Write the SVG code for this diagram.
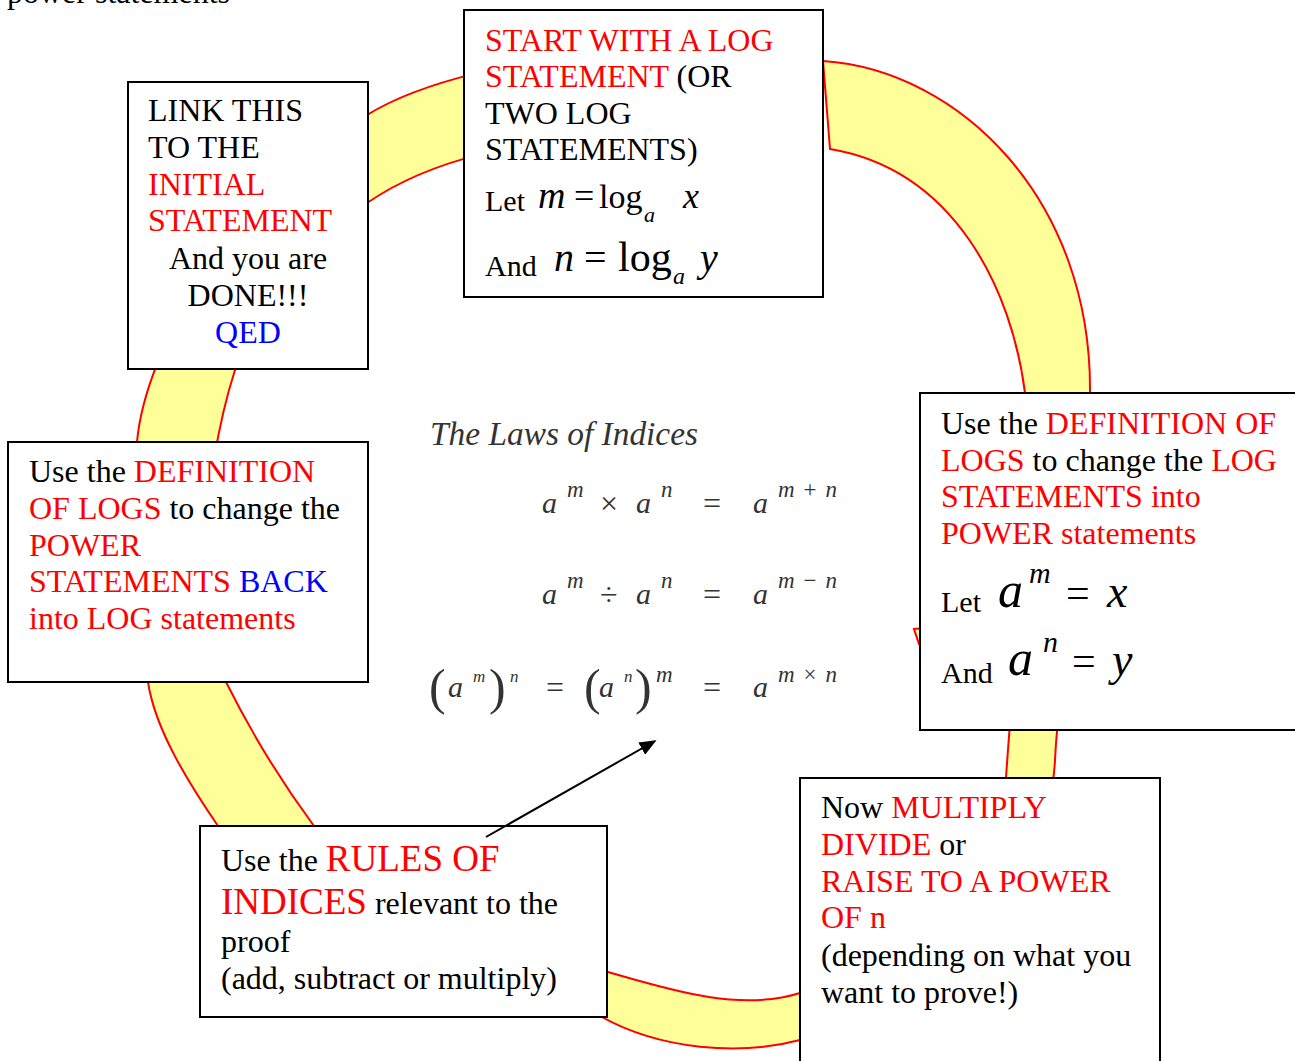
<svg xmlns="http://www.w3.org/2000/svg" width="1295" height="1061" viewBox="0 0 1295 1061">
<defs>
<style>
text{font-family:"Liberation Serif","Times New Roman",serif;font-size:32px;fill:#000}
.r{fill:#FF0000}
.b{fill:#0000FF}
.i{font-style:italic}
.box{fill:#fff;stroke:#000;stroke-width:2}
.band{fill:#FFFF99;stroke:#FF0000;stroke-width:2;stroke-linejoin:miter}
.law{font-style:italic;fill:#333;font-size:30px}
.sup{font-style:italic;fill:#333;font-size:23px}
.op{fill:#333;font-size:32px}
.par{fill:#333;font-size:50px}
</style>
<marker id="ah" viewBox="0 0 10 10" refX="9" refY="5" markerWidth="17" markerHeight="14" markerUnits="userSpaceOnUse" orient="auto" preserveAspectRatio="none">
<path d="M0,0 L10,5 L0,10 Z" fill="#000"/>
</marker>
</defs>
<rect width="1295" height="1061" fill="#fff"/>
<text x="7" y="3">power statements</text>

<g id="ring">
<path class="band" d="M 823,61 C 960,70 1092,200 1090,393 C 1098,540 1060,650 1055,760 C 1050,900 860,1035 800,1040 C 740,1056 660,1050 600,1016 C 490,955 290,920 218,826 C 190,785 155,730 148,682 C 142,640 130,520 137,442 C 145,350 230,200 367,115 C 420,82 520,58 620,52 L 620,140 C 520,138 430,160 367,203 C 310,235 255,300 235,370 C 219,420 206,490 205,560 C 204,620 212,655 226,682 C 250,730 280,780 314,826 C 380,910 495,945 608,972 C 670,990 740,1012 800,993 C 880,975 1000,880 1006,778 C 1012,680 1032,520 1025,393 C 1012,290 955,170 830,149 Z"/>
<polygon class="band" points="914,629 924,628 924,644 919,644"/>
</g>

<g id="node-top">
<rect class="box" x="464" y="10" width="359" height="287"/>
<text x="485" y="51"><tspan class="r">START WITH A LOG</tspan></text>
<text x="485" y="87"><tspan class="r">STATEMENT</tspan> (OR</text>
<text x="485" y="124">TWO LOG</text>
<text x="485" y="160">STATEMENTS)</text>
<text x="485" y="211" style="font-size:30px">Let</text>
<text x="538" y="208" class="i" style="font-size:38px">m</text>
<text x="574" y="208" style="font-size:36px">=</text>
<text x="599" y="208" style="font-size:34px">log</text>
<text x="644" y="222" class="i" style="font-size:22px">a</text>
<text x="683" y="208" class="i" style="font-size:36px">x</text>
<text x="485" y="276" style="font-size:30px">And</text>
<text x="554" y="271" class="i" style="font-size:40px">n</text>
<text x="584" y="271" style="font-size:40px">=</text>
<text x="618" y="271" style="font-size:42px">log</text>
<text x="673" y="284" class="i" style="font-size:24px">a</text>
<text x="700" y="271" class="i" style="font-size:40px">y</text>
</g>

<g id="node-link">
<rect class="box" x="128" y="82" width="240" height="287"/>
<text x="148" y="121">LINK THIS</text>
<text x="148" y="158">TO THE</text>
<text x="148" y="195" class="r">INITIAL</text>
<text x="148" y="231" class="r">STATEMENT</text>
<text x="248" y="269" text-anchor="middle">And you are</text>
<text x="248" y="306" text-anchor="middle">DONE!!!</text>
<text x="248" y="343" text-anchor="middle" class="b">QED</text>
</g>

<g id="node-left">
<rect class="box" x="8" y="442" width="360" height="240"/>
<text x="29" y="482">Use the <tspan class="r">DEFINITION</tspan></text>
<text x="29" y="519"><tspan class="r">OF LOGS</tspan> to change the</text>
<text x="29" y="556" class="r">POWER</text>
<text x="29" y="592"><tspan class="r">STATEMENTS</tspan> <tspan class="b">BACK</tspan></text>
<text x="29" y="629" class="r">into LOG statements</text>
</g>

<g id="node-right">
<rect class="box" x="920" y="393" width="380" height="337"/>
<text x="941" y="434">Use the <tspan class="r">DEFINITION OF</tspan></text>
<text x="941" y="471"><tspan class="r">LOGS</tspan> to change the <tspan class="r">LOG</tspan></text>
<text x="941" y="507" class="r">STATEMENTS into</text>
<text x="941" y="544" class="r">POWER statements</text>
<text x="941" y="612" style="font-size:30px">Let</text>
<text x="998" y="607" class="i" style="font-size:50px">a</text>
<text x="1029" y="583" class="i" style="font-size:30px">m</text>
<text x="1066" y="607" style="font-size:42px">=</text>
<text x="1107" y="607" class="i" style="font-size:46px">x</text>
<text x="941" y="683" style="font-size:30px">And</text>
<text x="1008" y="675" class="i" style="font-size:50px">a</text>
<text x="1043" y="652" class="i" style="font-size:30px">n</text>
<text x="1072" y="675" style="font-size:42px">=</text>
<text x="1112" y="675" class="i" style="font-size:46px">y</text>
</g>

<g id="node-multiply">
<rect class="box" x="800" y="778" width="360" height="290"/>
<text x="821" y="818">Now <tspan class="r">MULTIPLY</tspan></text>
<text x="821" y="855"><tspan class="r">DIVIDE</tspan> or</text>
<text x="821" y="892" class="r">RAISE TO A POWER</text>
<text x="821" y="928" class="r">OF n</text>
<text x="821" y="966">(depending on what you</text>
<text x="821" y="1003">want to prove!)</text>
</g>

<g id="node-rules">
<rect class="box" x="200" y="826" width="407" height="191"/>
<text x="221" y="871">Use the <tspan class="r" style="font-size:37px">RULES OF</tspan></text>
<text x="221" y="914"><tspan class="r" style="font-size:37px">INDICES</tspan> relevant to the</text>
<text x="221" y="952">proof</text>
<text x="221" y="989">(add, subtract or multiply)</text>
</g>

<g id="laws">
<text x="430" y="445" class="law" style="font-size:33px" textLength="268" lengthAdjust="spacingAndGlyphs">The Laws of Indices</text>
<text x="542" y="513" class="law">a</text>
<text x="567" y="497" class="sup">m</text>
<text x="600" y="514" class="op">×</text>
<text x="636" y="513" class="law">a</text>
<text x="661" y="497" class="sup">n</text>
<text x="703" y="514" class="op">=</text>
<text x="753" y="513" class="law">a</text>
<text x="778" y="497" class="sup" textLength="59">m <tspan style="font-style:normal">+</tspan> n</text>
<text x="542" y="604" class="law">a</text>
<text x="567" y="588" class="sup">m</text>
<text x="600" y="605" class="op">÷</text>
<text x="636" y="604" class="law">a</text>
<text x="661" y="588" class="sup">n</text>
<text x="703" y="605" class="op">=</text>
<text x="753" y="604" class="law">a</text>
<text x="778" y="588" class="sup" textLength="59">m <tspan style="font-style:normal">−</tspan> n</text>
<text x="429" y="704" class="par">(</text>
<text x="448" y="697" class="law">a</text>
<text x="473" y="682" class="sup" style="font-size:17px">m</text>
<text x="489" y="704" class="par">)</text>
<text x="510" y="682" class="sup" style="font-size:17px">n</text>
<text x="546" y="698" class="op">=</text>
<text x="584" y="704" class="par">(</text>
<text x="599" y="697" class="law">a</text>
<text x="624" y="682" class="sup" style="font-size:17px">n</text>
<text x="635" y="704" class="par">)</text>
<text x="656" y="682" class="sup">m</text>
<text x="703" y="698" class="op">=</text>
<text x="753" y="697" class="law">a</text>
<text x="778" y="682" class="sup" textLength="59">m <tspan style="font-style:normal">×</tspan> n</text>
</g>

<g id="connectors">
<line x1="486" y1="837" x2="655" y2="741" stroke="#000" stroke-width="2" marker-end="url(#ah)"/>
</g>
</svg>
